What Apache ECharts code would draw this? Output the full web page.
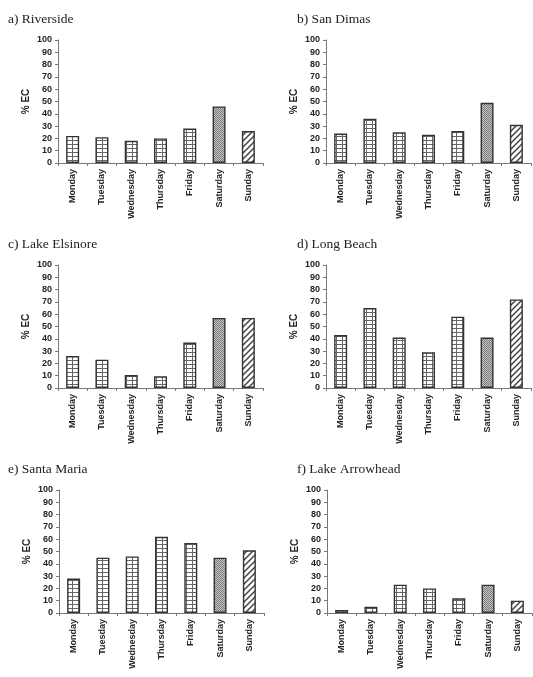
<!DOCTYPE html>
<html>
<head>
<meta charset="utf-8">
<script src="https://cdn.jsdelivr.net/npm/echarts@6/dist/echarts.min.js"></script>
<style>
html, body { margin: 0; padding: 0; background: #fff; }
#main { width: 533px; height: 677px; }
</style>
</head>
<body>
<div id="main"></div>
<script>
// data
var days = ['Monday', 'Tuesday', 'Wednesday', 'Thursday', 'Friday', 'Saturday', 'Sunday'];
var yTicks = [0, 10, 20, 30, 40, 50, 60, 70, 80, 90, 100];
var titles = ['a) Riverside', 'b) San Dimas', 'c) Lake Elsinore', 'd) Long Beach', 'e) Santa Maria', 'f) Lake Arrowhead'];
var riverside = [22, 21, 18, 20, 28, 46, 26];
var sanDimas = [24, 36, 25, 23, 26, 49, 31];
var lakeElsinore = [26, 23, 10.5, 9.5, 37, 57, 57];
var longBeach = [43, 65, 41, 29, 58, 41, 72];
var santaMaria = [28, 45, 46, 62, 57, 45, 51];
var lakeArrowhead = [2.5, 5, 23, 20, 12, 23, 10];
var panels = [riverside, sanDimas, lakeElsinore, longBeach, santaMaria, lakeArrowhead];

// fill patterns drawn on small canvases
function makeTile(w, h, draw) {
    var c = document.createElement('canvas');
    c.width = w; c.height = h;
    var ctx = c.getContext('2d');
    ctx.fillStyle = '#fff';
    ctx.fillRect(0, 0, w, h);
    draw(ctx);
    return { image: c, repeat: 'repeat' };
}
var gridFill = makeTile(6, 4, function (ctx) {
    ctx.fillStyle = '#666';
    ctx.fillRect(0, 0, 6, 1);
    ctx.fillRect(0, 0, 1, 4);
});
var dotFill = makeTile(2, 2, function (ctx) {
    ctx.fillStyle = '#c4c4c4';
    ctx.fillRect(0, 0, 2, 2);
    ctx.fillStyle = '#7a7a7a';
    ctx.fillRect(0, 0, 1, 1);
    ctx.fillRect(1, 1, 1, 1);
});
var diagFill = makeTile(6, 6, function (ctx) {
    ctx.strokeStyle = '#444';
    ctx.lineWidth = 1.5;
    ctx.beginPath();
    ctx.moveTo(-1, 7); ctx.lineTo(7, -1);
    ctx.moveTo(-4, 4); ctx.lineTo(4, -4);
    ctx.moveTo(2, 10); ctx.lineTo(10, 2);
    ctx.stroke();
});
var fills = [gridFill, gridFill, gridFill, gridFill, gridFill, dotFill, diagFill];

// panel placement
var lefts = [58, 326, 58, 326, 59, 327];
var tops = [40, 40, 265, 265, 490, 490];
var titleLefts = [8, 297, 8, 297, 8, 297];
var titleTops = [12, 12, 237, 237, 462, 462];

var myChart = echarts.init(document.getElementById('main'));
window.onresize = function () { myChart.resize(); };

var title = [], grid = [], xAxis = [], yAxis = [], series = [];
for (var i = 0; i < 6; i++) {
    title.push({
        text: titles[i], left: titleLefts[i], top: titleTops[i], padding: 0,
        textStyle: { fontFamily: 'Liberation Serif', fontSize: 13.5, fontWeight: 'normal', color: '#222' }
    });
    grid.push({ left: lefts[i], top: tops[i], width: 205, height: 123 });
    xAxis.push({
        type: 'category', gridIndex: i, data: days,
        axisLine: { lineStyle: { color: '#777', width: 1 } },
        axisTick: { show: true, length: 3, interval: 0, lineStyle: { color: '#777' } },
        axisLabel: {
            rotate: 90, interval: 0, margin: 6,
            fontFamily: 'Liberation Sans', fontSize: 9, fontWeight: 'bold', color: '#222'
        }
    });
    yAxis.push({
        type: 'value', gridIndex: i, min: yTicks[0], max: yTicks[yTicks.length - 1], interval: 10,
        name: '% EC', nameLocation: 'middle', nameGap: 27, nameRotate: 90,
        nameTextStyle: { fontFamily: 'Liberation Sans', fontSize: 10, fontWeight: 'bold', color: '#222' },
        axisLine: { show: true, lineStyle: { color: '#777', width: 1 } },
        axisTick: { show: true, length: 3, lineStyle: { color: '#777' } },
        splitLine: { show: false },
        axisLabel: { margin: 6, fontFamily: 'Liberation Sans', fontSize: 9, fontWeight: 'bold', color: '#222' }
    });
    series.push({
        type: 'bar', xAxisIndex: i, yAxisIndex: i, barWidth: 13,
        data: panels[i].map(function (v, j) {
            return { value: v, itemStyle: { color: fills[j] } };
        }),
        itemStyle: { borderColor: '#333', borderWidth: 1.4 },
        animation: false
    });
}

myChart.setOption({
    animation: false,
    title: title,
    grid: grid,
    xAxis: xAxis,
    yAxis: yAxis,
    series: series
});
</script>
</body>
</html>
